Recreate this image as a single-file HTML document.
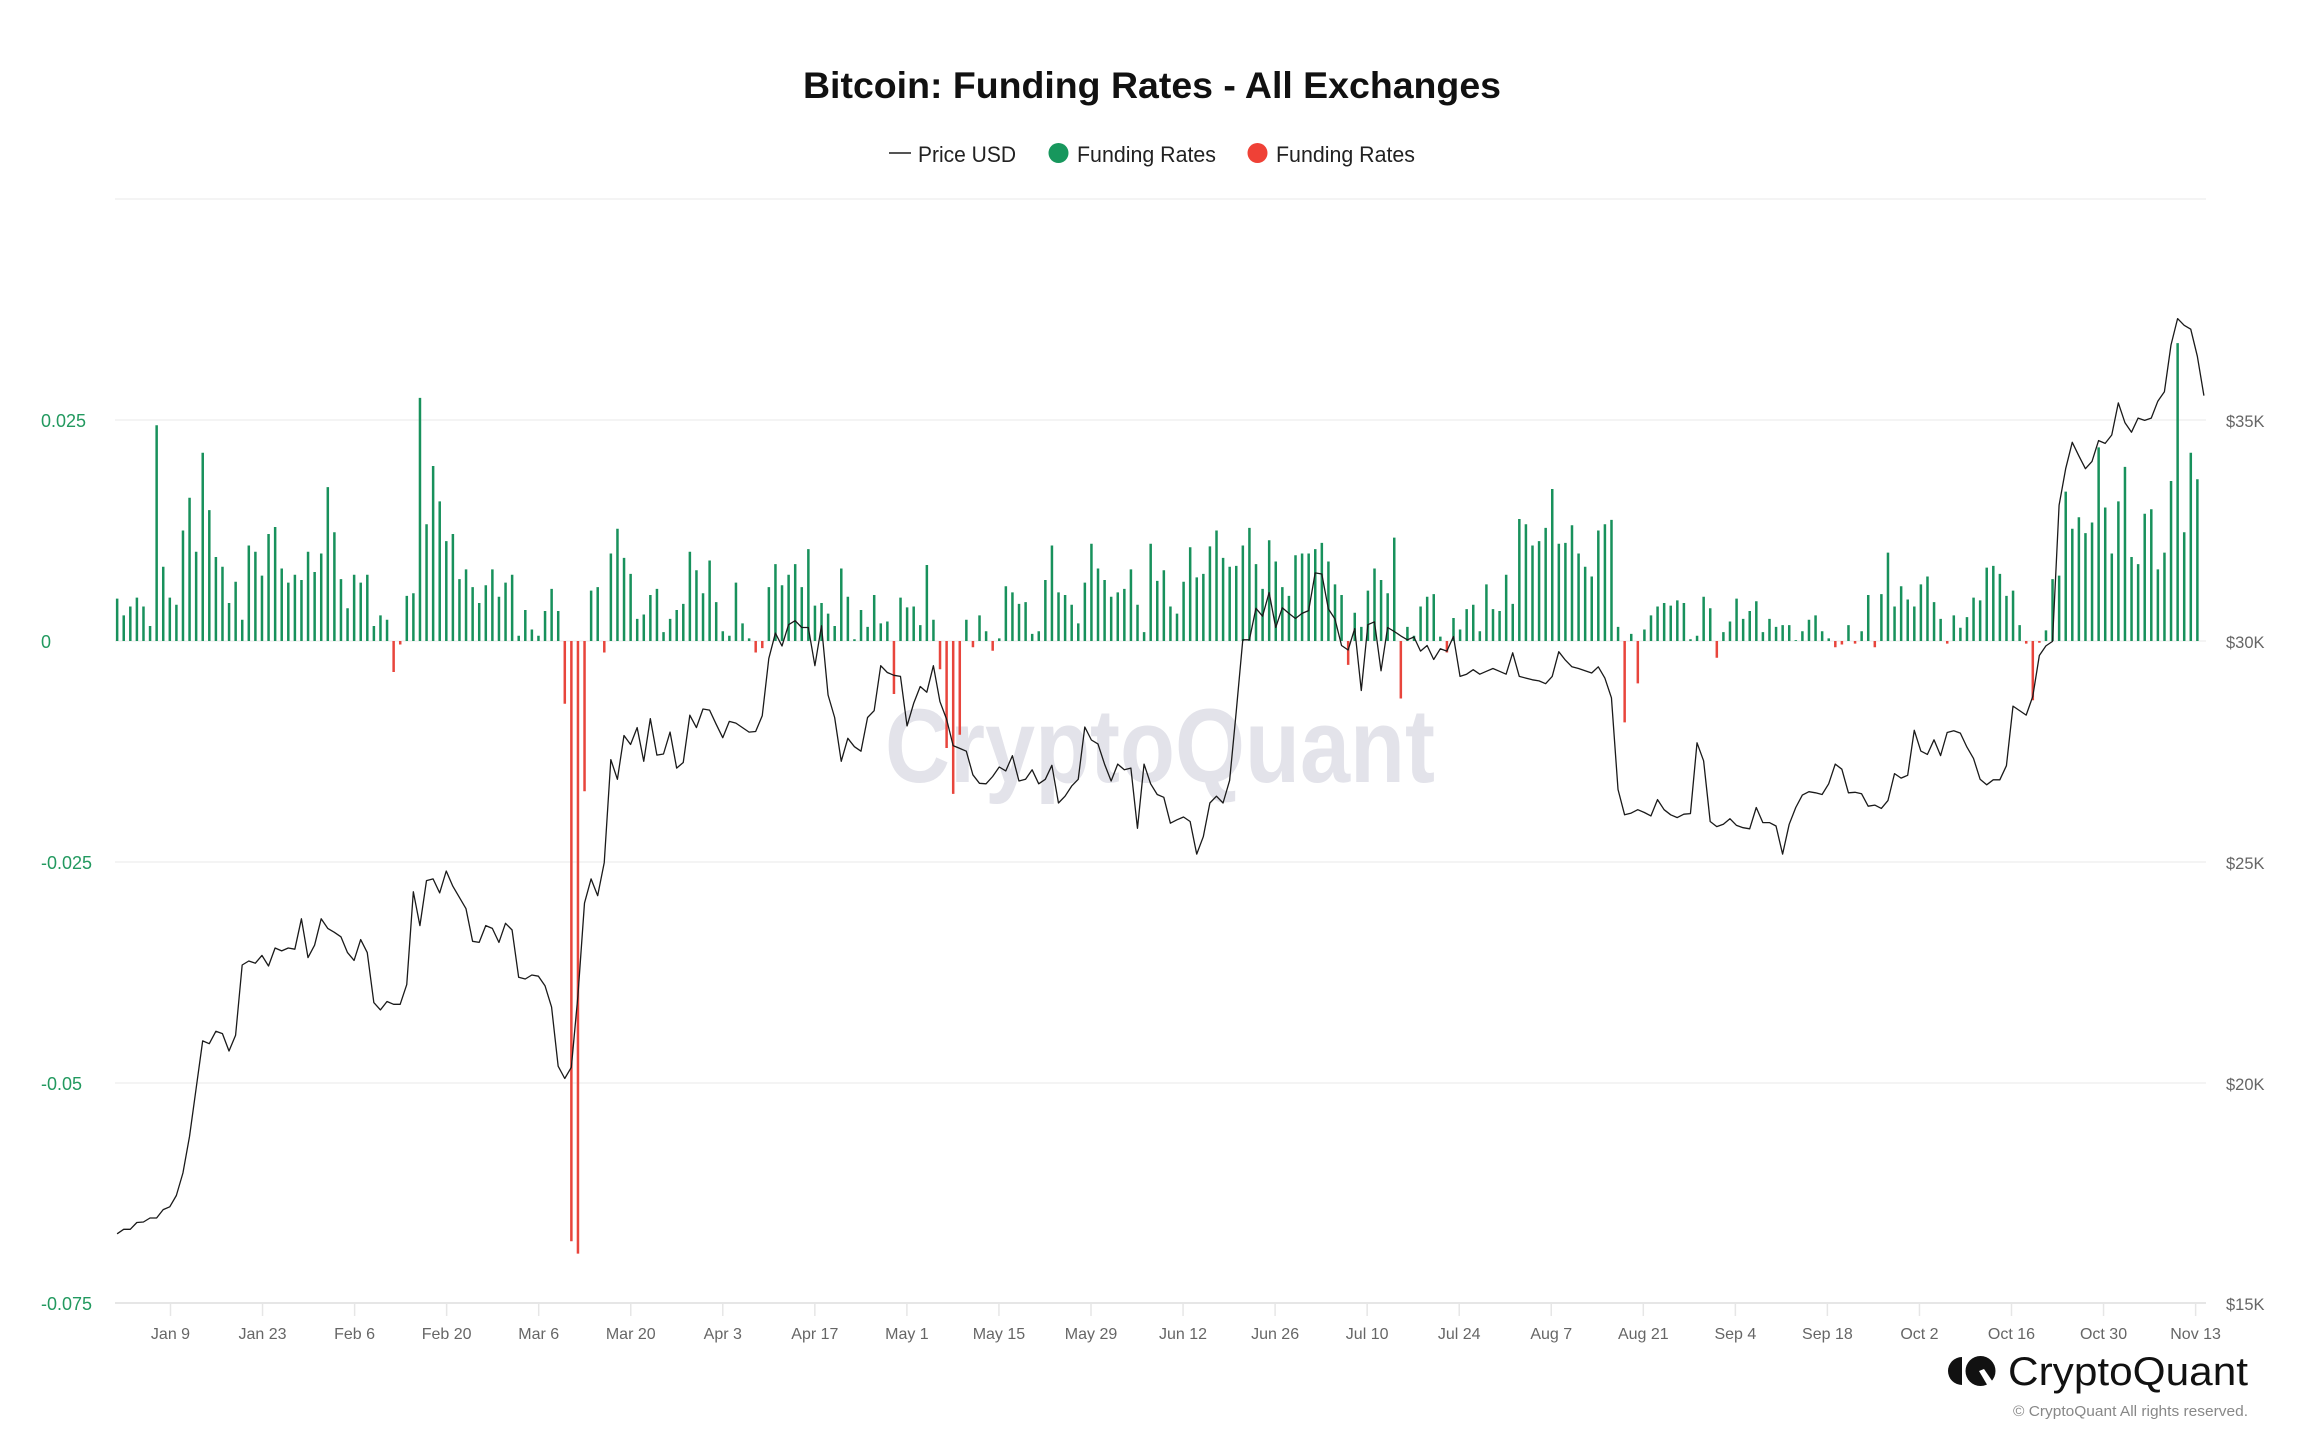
<!DOCTYPE html>
<html>
<head>
<meta charset="utf-8">
<style>
html,body{margin:0;padding:0;background:#fff;}
svg{display:block;font-family:"Liberation Sans",Arial,sans-serif;}
</style>
</head>
<body>
<svg width="2304" height="1450" viewBox="0 0 2304 1450" xmlns="http://www.w3.org/2000/svg">
<rect width="2304" height="1450" fill="#fff"/>

<!-- Title -->
<text x="1152" y="98" text-anchor="middle" font-size="37" font-weight="bold" fill="#111" textLength="698" lengthAdjust="spacingAndGlyphs">Bitcoin: Funding Rates - All Exchanges</text>

<!-- Legend -->
<line x1="889" y1="153" x2="911" y2="153" stroke="#555" stroke-width="2"/>
<text x="918" y="162" font-size="22" fill="#222" textLength="98" lengthAdjust="spacingAndGlyphs">Price USD</text>
<circle cx="1058.5" cy="153" r="10" fill="#17975d"/>
<text x="1077" y="162" font-size="22" fill="#222" textLength="139" lengthAdjust="spacingAndGlyphs">Funding Rates</text>
<circle cx="1257.5" cy="153" r="10" fill="#ef4136"/>
<text x="1276" y="162" font-size="22" fill="#222" textLength="139" lengthAdjust="spacingAndGlyphs">Funding Rates</text>

<!-- Gridlines -->
<g stroke="#f1f1f1" stroke-width="1.5">
<line x1="115" y1="199" x2="2206" y2="199"/>
<line x1="115" y1="420" x2="2206" y2="420"/>
<line x1="115" y1="641" x2="2206" y2="641"/>
<line x1="115" y1="862" x2="2206" y2="862"/>
<line x1="115" y1="1083" x2="2206" y2="1083"/>
</g>
<line x1="115" y1="1303" x2="2206" y2="1303" stroke="#e6e6e6" stroke-width="2"/>

<!-- Watermark -->
<text x="885" y="782" font-size="105" font-weight="bold" fill="#e3e3ea" textLength="550" lengthAdjust="spacingAndGlyphs">CryptoQuant</text>

<!-- X ticks -->
<g stroke="#e6e6e6" stroke-width="1.5">
<line x1="170.5" y1="1304" x2="170.5" y2="1316"/>
<line x1="262.55" y1="1304" x2="262.55" y2="1316"/>
<line x1="354.6" y1="1304" x2="354.6" y2="1316"/>
<line x1="446.65" y1="1304" x2="446.65" y2="1316"/>
<line x1="538.7" y1="1304" x2="538.7" y2="1316"/>
<line x1="630.75" y1="1304" x2="630.75" y2="1316"/>
<line x1="722.8" y1="1304" x2="722.8" y2="1316"/>
<line x1="814.85" y1="1304" x2="814.85" y2="1316"/>
<line x1="906.9" y1="1304" x2="906.9" y2="1316"/>
<line x1="998.95" y1="1304" x2="998.95" y2="1316"/>
<line x1="1091" y1="1304" x2="1091" y2="1316"/>
<line x1="1183.05" y1="1304" x2="1183.05" y2="1316"/>
<line x1="1275.1" y1="1304" x2="1275.1" y2="1316"/>
<line x1="1367.15" y1="1304" x2="1367.15" y2="1316"/>
<line x1="1459.2" y1="1304" x2="1459.2" y2="1316"/>
<line x1="1551.25" y1="1304" x2="1551.25" y2="1316"/>
<line x1="1643.3" y1="1304" x2="1643.3" y2="1316"/>
<line x1="1735.35" y1="1304" x2="1735.35" y2="1316"/>
<line x1="1827.4" y1="1304" x2="1827.4" y2="1316"/>
<line x1="1919.45" y1="1304" x2="1919.45" y2="1316"/>
<line x1="2011.5" y1="1304" x2="2011.5" y2="1316"/>
<line x1="2103.55" y1="1304" x2="2103.55" y2="1316"/>
<line x1="2195.6" y1="1304" x2="2195.6" y2="1316"/>
</g>
<g font-size="16" fill="#666" text-anchor="middle">
<text x="170.5" y="1339">Jan 9</text>
<text x="262.55" y="1339">Jan 23</text>
<text x="354.6" y="1339">Feb 6</text>
<text x="446.65" y="1339">Feb 20</text>
<text x="538.7" y="1339">Mar 6</text>
<text x="630.75" y="1339">Mar 20</text>
<text x="722.8" y="1339">Apr 3</text>
<text x="814.85" y="1339">Apr 17</text>
<text x="906.9" y="1339">May 1</text>
<text x="998.95" y="1339">May 15</text>
<text x="1091" y="1339">May 29</text>
<text x="1183.05" y="1339">Jun 12</text>
<text x="1275.1" y="1339">Jun 26</text>
<text x="1367.15" y="1339">Jul 10</text>
<text x="1459.2" y="1339">Jul 24</text>
<text x="1551.25" y="1339">Aug 7</text>
<text x="1643.3" y="1339">Aug 21</text>
<text x="1735.35" y="1339">Sep 4</text>
<text x="1827.4" y="1339">Sep 18</text>
<text x="1919.45" y="1339">Oct 2</text>
<text x="2011.5" y="1339">Oct 16</text>
<text x="2103.55" y="1339">Oct 30</text>
<text x="2195.6" y="1339">Nov 13</text>
</g>

<!-- Left axis -->
<g font-size="18" fill="#22995f">
<text x="41" y="427">0.025</text>
<text x="41" y="648">0</text>
<text x="41" y="869">-0.025</text>
<text x="41" y="1090">-0.05</text>
<text x="41" y="1310">-0.075</text>
</g>
<!-- Right axis -->
<g font-size="16.5" fill="#666">
<text x="2226" y="427">$35K</text>
<text x="2226" y="648">$30K</text>
<text x="2226" y="869">$25K</text>
<text x="2226" y="1090">$20K</text>
<text x="2226" y="1310">$15K</text>
</g>

<!-- Bars -->
<g transform="translate(115.9,641) scale(6.583,-8840)">
<path fill="#18915c" d="M0 0V.0048h.38V0zM1 0V.0029h.38V0zM2 0V.0039h.38V0zM3 0V.0049h.38V0zM4 0V.0039h.38V0zM5 0V.0017h.38V0zM6 0V.0244h.38V0zM7 0V.0084h.38V0zM8 0V.0049h.38V0zM9 0V.0041h.38V0zM10 0V.0125h.38V0zM11 0V.0162h.38V0zM12 0V.0101h.38V0zM13 0V.0213h.38V0zM14 0V.0148h.38V0zM15 0V.0095h.38V0zM16 0V.0084h.38V0zM17 0V.0043h.38V0zM18 0V.0067h.38V0zM19 0V.0024h.38V0zM20 0V.0108h.38V0zM21 0V.0101h.38V0zM22 0V.0074h.38V0zM23 0V.0121h.38V0zM24 0V.0129h.38V0zM25 0V.0082h.38V0zM26 0V.0066h.38V0zM27 0V.0075h.38V0zM28 0V.0069h.38V0zM29 0V.0101h.38V0zM30 0V.0078h.38V0zM31 0V.0099h.38V0zM32 0V.0174h.38V0zM33 0V.0123h.38V0zM34 0V.0070h.38V0zM35 0V.0037h.38V0zM36 0V.0075h.38V0zM37 0V.0066h.38V0zM38 0V.0075h.38V0zM39 0V.0017h.38V0zM40 0V.0029h.38V0zM41 0V.0024h.38V0zM44 0V.0051h.38V0zM45 0V.0054h.38V0zM46 0V.0275h.38V0zM47 0V.0132h.38V0zM48 0V.0198h.38V0zM49 0V.0158h.38V0zM50 0V.0113h.38V0zM51 0V.0121h.38V0zM52 0V.0070h.38V0zM53 0V.0081h.38V0zM54 0V.0061h.38V0zM55 0V.0043h.38V0zM56 0V.0063h.38V0zM57 0V.0081h.38V0zM58 0V.0050h.38V0zM59 0V.0066h.38V0zM60 0V.0075h.38V0zM61 0V.0006h.38V0zM62 0V.0035h.38V0zM63 0V.0013h.38V0zM64 0V.0006h.38V0zM65 0V.0034h.38V0zM66 0V.0059h.38V0zM67 0V.0034h.38V0zM72 0V.0057h.38V0zM73 0V.0061h.38V0zM75 0V.0099h.38V0zM76 0V.0127h.38V0zM77 0V.0094h.38V0zM78 0V.0076h.38V0zM79 0V.0025h.38V0zM80 0V.0030h.38V0zM81 0V.0052h.38V0zM82 0V.0059h.38V0zM83 0V.0010h.38V0zM84 0V.0025h.38V0zM85 0V.0035h.38V0zM86 0V.0042h.38V0zM87 0V.0101h.38V0zM88 0V.0080h.38V0zM89 0V.0054h.38V0zM90 0V.0091h.38V0zM91 0V.0044h.38V0zM92 0V.0011h.38V0zM93 0V.0006h.38V0zM94 0V.0066h.38V0zM95 0V.0020h.38V0zM96 0V.0003h.38V0zM99 0V.0061h.38V0zM100 0V.0087h.38V0zM101 0V.0063h.38V0zM102 0V.0075h.38V0zM103 0V.0087h.38V0zM104 0V.0061h.38V0zM105 0V.0104h.38V0zM106 0V.0040h.38V0zM107 0V.0043h.38V0zM108 0V.0031h.38V0zM109 0V.0017h.38V0zM110 0V.0082h.38V0zM111 0V.0050h.38V0zM112 0V.0002h.38V0zM113 0V.0035h.38V0zM114 0V.0016h.38V0zM115 0V.0052h.38V0zM116 0V.0020h.38V0zM117 0V.0022h.38V0zM119 0V.0049h.38V0zM120 0V.0038h.38V0zM121 0V.0039h.38V0zM122 0V.0018h.38V0zM123 0V.0086h.38V0zM124 0V.0024h.38V0zM129 0V.0024h.38V0zM131 0V.0029h.38V0zM132 0V.0011h.38V0zM134 0V.0003h.38V0zM135 0V.0062h.38V0zM136 0V.0055h.38V0zM137 0V.0042h.38V0zM138 0V.0044h.38V0zM139 0V.0008h.38V0zM140 0V.0011h.38V0zM141 0V.0069h.38V0zM142 0V.0108h.38V0zM143 0V.0055h.38V0zM144 0V.0052h.38V0zM145 0V.0041h.38V0zM146 0V.0020h.38V0zM147 0V.0066h.38V0zM148 0V.0110h.38V0zM149 0V.0082h.38V0zM150 0V.0069h.38V0zM151 0V.0050h.38V0zM152 0V.0055h.38V0zM153 0V.0059h.38V0zM154 0V.0081h.38V0zM155 0V.0041h.38V0zM156 0V.0010h.38V0zM157 0V.0110h.38V0zM158 0V.0068h.38V0zM159 0V.0080h.38V0zM160 0V.0039h.38V0zM161 0V.0031h.38V0zM162 0V.0067h.38V0zM163 0V.0106h.38V0zM164 0V.0072h.38V0zM165 0V.0076h.38V0zM166 0V.0107h.38V0zM167 0V.0125h.38V0zM168 0V.0094h.38V0zM169 0V.0084h.38V0zM170 0V.0085h.38V0zM171 0V.0108h.38V0zM172 0V.0128h.38V0zM173 0V.0087h.38V0zM174 0V.0059h.38V0zM175 0V.0114h.38V0zM176 0V.0090h.38V0zM177 0V.0061h.38V0zM178 0V.0051h.38V0zM179 0V.0097h.38V0zM180 0V.0099h.38V0zM181 0V.0099h.38V0zM182 0V.0104h.38V0zM183 0V.0111h.38V0zM184 0V.0090h.38V0zM185 0V.0064h.38V0zM186 0V.0052h.38V0zM188 0V.0032h.38V0zM189 0V.0016h.38V0zM190 0V.0057h.38V0zM191 0V.0082h.38V0zM192 0V.0069h.38V0zM193 0V.0054h.38V0zM194 0V.0117h.38V0zM196 0V.0016h.38V0zM197 0V.0006h.38V0zM198 0V.0039h.38V0zM199 0V.0050h.38V0zM200 0V.0053h.38V0zM201 0V.0005h.38V0zM203 0V.0026h.38V0zM204 0V.0013h.38V0zM205 0V.0036h.38V0zM206 0V.0041h.38V0zM207 0V.0011h.38V0zM208 0V.0064h.38V0zM209 0V.0036h.38V0zM210 0V.0034h.38V0zM211 0V.0075h.38V0zM212 0V.0042h.38V0zM213 0V.0138h.38V0zM214 0V.0132h.38V0zM215 0V.0108h.38V0zM216 0V.0113h.38V0zM217 0V.0128h.38V0zM218 0V.0172h.38V0zM219 0V.0110h.38V0zM220 0V.0111h.38V0zM221 0V.0131h.38V0zM222 0V.0099h.38V0zM223 0V.0084h.38V0zM224 0V.0073h.38V0zM225 0V.0125h.38V0zM226 0V.0132h.38V0zM227 0V.0137h.38V0zM228 0V.0016h.38V0zM230 0V.0008h.38V0zM232 0V.0013h.38V0zM233 0V.0029h.38V0zM234 0V.0039h.38V0zM235 0V.0043h.38V0zM236 0V.0040h.38V0zM237 0V.0046h.38V0zM238 0V.0043h.38V0zM239 0V.0002h.38V0zM240 0V.0006h.38V0zM241 0V.0050h.38V0zM242 0V.0037h.38V0zM244 0V.0010h.38V0zM245 0V.0022h.38V0zM246 0V.0048h.38V0zM247 0V.0025h.38V0zM248 0V.0034h.38V0zM249 0V.0045h.38V0zM250 0V.0010h.38V0zM251 0V.0025h.38V0zM252 0V.0016h.38V0zM253 0V.0018h.38V0zM254 0V.0018h.38V0zM255 0V.0001h.38V0zM256 0V.0011h.38V0zM257 0V.0024h.38V0zM258 0V.0029h.38V0zM259 0V.0011h.38V0zM260 0V.0003h.38V0zM263 0V.0018h.38V0zM265 0V.0011h.38V0zM266 0V.0052h.38V0zM268 0V.0053h.38V0zM269 0V.0100h.38V0zM270 0V.0039h.38V0zM271 0V.0062h.38V0zM272 0V.0047h.38V0zM273 0V.0039h.38V0zM274 0V.0064h.38V0zM275 0V.0073h.38V0zM276 0V.0044h.38V0zM277 0V.0025h.38V0zM279 0V.0029h.38V0zM280 0V.0015h.38V0zM281 0V.0027h.38V0zM282 0V.0049h.38V0zM283 0V.0046h.38V0zM284 0V.0083h.38V0zM285 0V.0085h.38V0zM286 0V.0076h.38V0zM287 0V.0051h.38V0zM288 0V.0057h.38V0zM289 0V.0018h.38V0zM293 0V.0012h.38V0zM294 0V.0070h.38V0zM295 0V.0074h.38V0zM296 0V.0169h.38V0zM297 0V.0127h.38V0zM298 0V.0140h.38V0zM299 0V.0122h.38V0zM300 0V.0134h.38V0zM301 0V.0219h.38V0zM302 0V.0151h.38V0zM303 0V.0099h.38V0zM304 0V.0158h.38V0zM305 0V.0197h.38V0zM306 0V.0095h.38V0zM307 0V.0087h.38V0zM308 0V.0144h.38V0zM309 0V.0149h.38V0zM310 0V.0081h.38V0zM311 0V.0100h.38V0zM312 0V.0181h.38V0zM313 0V.0337h.38V0zM314 0V.0123h.38V0zM315 0V.0213h.38V0zM316 0V.0183h.38V0z"/>
<path fill="#e8453c" d="M42 0V-.0035h.38V0zM43 0V-.0004h.38V0zM68 0V-.0071h.38V0zM69 0V-.0679h.38V0zM70 0V-.0693h.38V0zM71 0V-.0170h.38V0zM74 0V-.0013h.38V0zM97 0V-.0013h.38V0zM98 0V-.0008h.38V0zM118 0V-.0060h.38V0zM125 0V-.0032h.38V0zM126 0V-.0121h.38V0zM127 0V-.0173h.38V0zM128 0V-.0106h.38V0zM130 0V-.0007h.38V0zM133 0V-.0011h.38V0zM187 0V-.0027h.38V0zM195 0V-.0065h.38V0zM202 0V-.0013h.38V0zM229 0V-.0092h.38V0zM231 0V-.0048h.38V0zM243 0V-.0019h.38V0zM261 0V-.0007h.38V0zM262 0V-.0004h.38V0zM264 0V-.0003h.38V0zM267 0V-.0007h.38V0zM278 0V-.0003h.38V0zM290 0V-.0003h.38V0zM291 0V-.0067h.38V0zM292 0V-.0002h.38V0z"/>
</g>

<!-- Price line -->
<g transform="translate(117.1,0) scale(6.583,1)">
<polyline fill="none" stroke="#1a1a1a" stroke-width="1.3" stroke-linejoin="round" vector-effect="non-scaling-stroke" points="0,1233.8 1,1229.3 2,1229.3 3,1222.5 4,1222 5,1218 6,1218 7,1209.6 8,1206.8 9,1195.5 10,1173 11,1136.5 12,1088.7 13,1040.9 14,1043.7 15,1031.3 16,1033.6 17,1051 18,1035.2 19,965 20,961 21,963.2 22,955.4 23,966 24,948 25,950.9 26,948 27,949.2 28,918.8 29,957.6 30,945.2 31,918.8 32,928.4 33,932.3 34,936.8 35,952.6 36,960.4 37,939.6 38,952.6 39,1002.6 40,1009.9 41,1001.5 42,1004.3 43,1004.3 44,984.6 45,891.8 46,925.6 47,880.6 48,878.9 49,892.9 50,871 51,886.2 52,897.4 53,908.7 54,941.3 55,942.4 56,925.6 57,928.4 58,942.4 59,923.3 60,930 61,977.3 62,979 63,975 64,976.2 65,985.7 66,1007.1 67,1066.2 68,1078.5 69,1067.3 70,995.9 71,903.1 72,878.9 73,895.7 74,862.6 75,759.6 76,779.3 77,735.5 78,744.5 79,727.6 80,761.3 81,718.6 82,755.1 83,754 84,732.1 85,768.1 86,762.5 87,715.2 88,727.6 89,709 90,710.1 91,724.2 92,737.7 93,721.4 94,723.1 95,727.6 96,732.1 97,731.5 98,715.8 99,658.4 100,633.1 101,646 102,624.7 103,620.7 104,627.5 105,627.5 106,665.7 107,625.8 108,695 109,717.5 110,761.3 111,738.3 112,746.7 113,751.2 114,717.5 115,710.7 116,665.7 117,672.5 118,675.3 119,676.4 120,725.9 121,703.4 122,686.5 123,692.2 124,665.7 125,701.7 126,719.1 127,745.6 128,748.4 129,751.2 130,774.8 131,783.3 132,783.8 133,776.5 134,767 135,770.9 136,755.7 137,781 138,779.3 139,769.8 140,783.8 141,779.3 142,765.3 143,803 144,796.2 145,786.1 146,779.3 147,727 148,740 149,743.9 150,764.1 151,781 152,764.1 153,769.8 154,768.1 155,828.3 156,764.1 157,783.8 158,794.5 159,797.3 160,823.2 161,819.8 162,817 163,821.5 164,854.1 165,836.7 166,803 167,796.2 168,803 169,780.4 170,711.8 171,639.8 172,639.8 173,608.3 174,616.2 175,592.6 176,627.5 177,607.8 178,613.4 179,618.5 180,613.4 181,610.6 182,572.9 183,574 184,608.9 185,619 186,645.5 187,650 188,628.6 189,690.5 190,624.7 191,621.8 192,670.8 193,627.5 194,631.4 195,635.9 196,639.8 197,637 198,651.1 199,645.5 200,659.5 201,648.8 202,651.1 203,636.5 204,676.4 205,674.2 206,669.7 207,674.2 208,671.3 209,668.5 210,671.3 211,674.2 212,652.8 213,676.4 214,678.1 215,679.8 216,680.9 217,683.7 218,676.4 219,651.7 220,660.1 221,666.8 222,668.5 223,670.8 224,673 225,666.8 226,678.1 227,697.8 228,789.5 229,814.8 230,813.1 231,809.7 232,812.5 233,815.9 234,799.6 235,809.7 236,814.8 237,817.6 238,814.2 239,813.6 240,742.8 241,760.8 242,821.5 243,826.6 244,824.3 245,818.7 246,825.4 247,827.7 248,828.8 249,807.5 250,822.6 251,822.6 252,826 253,854.1 254,824.3 255,807.5 256,795.1 257,791.7 258,792.8 259,794.5 260,783.8 261,764.1 262,769.2 263,792.8 264,792.3 265,793.8 266,806.2 267,805.1 268,808.4 269,800.6 270,773.6 271,778.1 272,775.3 273,730.3 274,751.1 275,754.4 276,739.8 277,755.6 278,732.5 279,730.8 280,733.1 281,747.1 282,758.4 283,779.2 284,784.8 285,779.8 286,779.8 287,765.7 288,706.1 289,710.6 290,715.1 291,696.5 292,655.5 293,645.9 294,641.4 295,505.3 296,468.7 297,442.3 298,455.8 299,468.7 300,461.4 301,440.6 302,443.4 303,435 304,402.9 305,422.6 306,432.2 307,418.1 308,420.4 309,418.1 310,401.2 311,391.7 312,345 313,318.6 314,325.3 315,329.2 316,356.2 317,395.6"/>
</g>

<!-- Logo -->
<path d="M1962,1357 A14,14 0 0 0 1962,1385 Z" fill="#111"/>
<circle cx="1980.5" cy="1371" r="15" fill="#111"/>
<polygon points="1979,1371 1984,1369 1995,1385 1989,1388" fill="#fff"/>
<text x="2008" y="1385" font-size="40" fill="#111" textLength="240" lengthAdjust="spacingAndGlyphs">CryptoQuant</text>
<text x="2013" y="1416" font-size="15" fill="#888" textLength="235" lengthAdjust="spacingAndGlyphs">© CryptoQuant All rights reserved.</text>
</svg>
</body>
</html>
